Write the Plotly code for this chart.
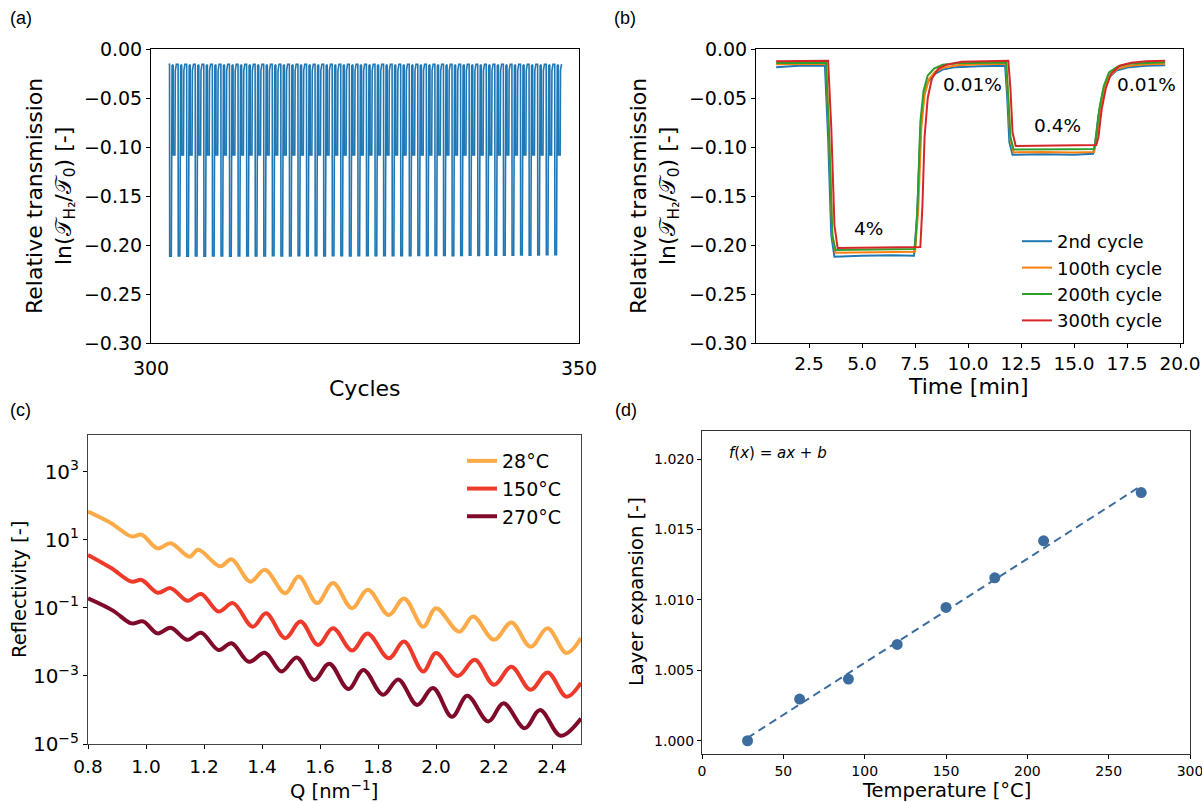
import numpy as np
import plotly.graph_objects as go

W, H = 1202, 802

# ---------------- (a) cycling overview ----------------
CYCLES_A = list(range(302, 348))          # 46 cycles shown
CYCLE_LENGTH_MIN = 20.0
PROFILE_T = [1.0, 3.3, 3.5, 3.65, 7.45, 7.6, 7.75, 7.9, 8.3, 9.2, 11.75, 11.9, 12.05, 15.9, 16.05, 16.3, 16.8, 19.2]
PROFILE_V = [-0.0155, -0.0155, -0.12, -0.211, -0.211, -0.16, -0.08, -0.045, -0.025, -0.017,
             -0.016, -0.07, -0.108, -0.108, -0.08, -0.045, -0.022, -0.0155]
DEEP_A = [-0.2115, -0.2112, -0.2115, -0.2113, -0.2114, -0.2112, -0.2113, -0.2115, -0.2112, -0.2111,
          -0.2113, -0.2112, -0.2110, -0.2112, -0.2111, -0.2110, -0.2112, -0.2110, -0.2111, -0.2109,
          -0.2110, -0.2111, -0.2109, -0.2110, -0.2108, -0.2110, -0.2109, -0.2108, -0.2109, -0.2107,
          -0.2108, -0.2107, -0.2106, -0.2108, -0.2106, -0.2105, -0.2106, -0.2104, -0.2105, -0.2103,
          -0.2104, -0.2102, -0.2103, -0.2101, -0.2100, -0.2099]

# ---------------- (b) single cycles ----------------
T_2ND = [0.95, 2.0, 3.25, 3.4, 3.55, 3.7, 5.0, 6.5, 7.45, 7.6, 7.75, 7.9, 8.1, 8.4, 8.8, 9.4,
         10.5, 11.75, 11.85, 11.95, 12.1, 13.5, 15.0, 15.9, 16.0, 16.15, 16.35, 16.6, 17.0, 17.6, 18.4, 19.3]
V_2ND = [-0.0185, -0.0172, -0.0168, -0.09, -0.19, -0.212, -0.211, -0.2105, -0.211, -0.17, -0.085, -0.05,
         -0.034, -0.026, -0.021, -0.0185, -0.0175, -0.0172, -0.05, -0.095, -0.108, -0.1075, -0.1078, -0.107,
         -0.095, -0.068, -0.045, -0.03, -0.022, -0.0185, -0.0172, -0.0165]
T_100 = [0.95, 2.0, 3.3, 3.45, 3.6, 3.75, 5.0, 6.5, 7.5, 7.65, 7.8, 7.95, 8.15, 8.45, 8.85, 9.5,
         10.5, 11.8, 11.9, 12.0, 12.15, 13.5, 15.0, 15.95, 16.05, 16.2, 16.4, 16.65, 17.05, 17.6, 18.4, 19.3]
V_100 = [-0.0155, -0.015, -0.015, -0.09, -0.19, -0.208, -0.2075, -0.207, -0.207, -0.165, -0.08, -0.047,
         -0.031, -0.023, -0.019, -0.0165, -0.0155, -0.015, -0.05, -0.093, -0.1055, -0.105, -0.1055, -0.105,
         -0.093, -0.066, -0.043, -0.028, -0.02, -0.017, -0.0155, -0.015]
T_200 = [0.95, 2.0, 3.3, 3.45, 3.6, 3.75, 5.0, 6.5, 7.5, 7.62, 7.75, 7.9, 8.1, 8.4, 8.8, 9.5,
         10.5, 11.8, 11.9, 12.0, 12.15, 13.5, 15.0, 15.95, 16.05, 16.2, 16.4, 16.65, 17.05, 17.6, 18.4, 19.3]
V_200 = [-0.0142, -0.014, -0.014, -0.09, -0.19, -0.205, -0.2045, -0.204, -0.204, -0.16, -0.075, -0.043,
         -0.027, -0.02, -0.016, -0.0145, -0.014, -0.0138, -0.05, -0.09, -0.1025, -0.102, -0.1022, -0.102,
         -0.088, -0.06, -0.038, -0.024, -0.018, -0.015, -0.014, -0.0135]
T_300 = [0.95, 2.0, 3.4, 3.55, 3.7, 3.85, 5.0, 6.5, 7.75, 7.85, 7.95, 8.1, 8.3, 8.6, 9.0, 9.7,
         10.5, 11.9, 12.0, 12.1, 12.25, 13.5, 15.0, 16.05, 16.15, 16.3, 16.5, 16.75, 17.15, 17.7, 18.4, 19.3]
V_300 = [-0.0125, -0.0122, -0.012, -0.08, -0.18, -0.203, -0.2025, -0.202, -0.202, -0.16, -0.09, -0.05,
         -0.03, -0.02, -0.016, -0.013, -0.0125, -0.012, -0.04, -0.085, -0.099, -0.0985, -0.0985, -0.098,
         -0.09, -0.062, -0.04, -0.025, -0.017, -0.014, -0.0125, -0.012]
CYCLE_LABELS = ["2nd cycle", "100th cycle", "200th cycle", "300th cycle"]
CYCLE_COLORS = ["#1f77b4", "#ff7f0e", "#2ca02c", "#d62728"]
B_NOTES = ["4%", "0.01%", "0.4%", "0.01%"]
B_NOTE_X = [5.3, 10.2, 14.2, 18.4]
B_NOTE_Y = [-0.183, -0.036, -0.078, -0.036]

# ---------------- (c) reflectivity ----------------
Q_28 = [0.80, 0.88, 0.95, 0.985, 1.04, 1.085, 1.15, 1.18, 1.256, 1.295, 1.36, 1.41, 1.48, 1.527, 1.59,
        1.645, 1.71, 1.765, 1.837, 1.89, 1.956, 2.00, 2.08, 2.128, 2.20, 2.26, 2.326, 2.385, 2.45, 2.50]
R_28 = [67.6, 30.9, 12.6, 14.1, 5.6, 7.9, 3.2, 5.1, 1.66, 2.7, 0.59, 1.32, 0.27, 0.83, 0.138,
        0.54, 0.098, 0.34, 0.062, 0.19, 0.028, 0.098, 0.020, 0.056, 0.0115, 0.037, 0.0072, 0.025, 0.0047, 0.0129]
Q_150 = [0.80, 0.88, 0.95, 0.985, 1.04, 1.085, 1.143, 1.19, 1.25, 1.30, 1.368, 1.414, 1.48, 1.533, 1.593,
         1.645, 1.711, 1.764, 1.837, 1.89, 1.956, 2.0, 2.075, 2.134, 2.20, 2.26, 2.326, 2.385, 2.45, 2.50]
R_150 = [3.6, 1.48, 0.59, 0.66, 0.28, 0.38, 0.162, 0.257, 0.078, 0.138, 0.028, 0.069, 0.0129, 0.040, 0.0081,
         0.025, 0.0056, 0.0178, 0.0033, 0.0102, 0.00135, 0.0047, 0.0010, 0.0030, 0.00055, 0.00186, 0.00039,
         0.00126, 0.000245, 0.00063]
Q_270 = [0.80, 0.886, 0.95, 0.99, 1.04, 1.085, 1.143, 1.19, 1.25, 1.295, 1.355, 1.41, 1.467, 1.52, 1.58,
         1.632, 1.698, 1.75, 1.817, 1.87, 1.935, 1.99, 2.055, 2.108, 2.18, 2.233, 2.306, 2.359, 2.43, 2.50]
R_270 = [0.19, 0.083, 0.035, 0.040, 0.0178, 0.026, 0.0115, 0.0186, 0.0058, 0.0091, 0.0026, 0.0048, 0.00135,
         0.0035, 0.00076, 0.0023, 0.00041, 0.0015, 0.00028, 0.00079, 0.000141, 0.00044, 0.000063, 0.00026,
         0.000046, 0.000158, 0.000029, 0.0001, 0.0000174, 0.000056]
TEMP_LABELS = ["28°C", "150°C", "270°C"]
TEMP_COLORS = ["#fdaa48", "#ee3a2b", "#7f0a2a"]
R_TICKS = [1e-5, 1e-3, 1e-1, 1e1, 1e3]
R_TICKTEXT = ["10<sup>−5</sup>", "10<sup>−3</sup>", "10<sup>−1</sup>", "10<sup>1</sup>", "10<sup>3</sup>"]

# ---------------- (d) layer expansion ----------------
TEMP_D = [28, 60, 90, 120, 150, 180, 210, 270]
EXPANSION = [1.0000, 1.00296, 1.00438, 1.00684, 1.00947, 1.01157, 1.0142, 1.01763]
D_COLOR = "#3d6d9e"


def px_x(p):
    return p / W


def px_y(p):
    return 1 - p / H


fig = go.Figure()

# (a)
xa, ya = [], []
for i, c in enumerate(CYCLES_A):
    for t, v in zip(PROFILE_T, PROFILE_V):
        xa.append(c + t / CYCLE_LENGTH_MIN)
        ya.append(DEEP_A[i] if v <= -0.2 else v)
fig.add_trace(go.Scatter(x=xa, y=ya, mode="lines", line=dict(color="#1f77b4", width=1.6),
                         showlegend=False, xaxis="x", yaxis="y"))

# (b)
for t, v, lab, col in zip([T_2ND, T_100, T_200, T_300], [V_2ND, V_100, V_200, V_300],
                          CYCLE_LABELS, CYCLE_COLORS):
    fig.add_trace(go.Scatter(x=t, y=v, mode="lines", name=lab, line=dict(color=col, width=2),
                             xaxis="x2", yaxis="y2", legend="legend", legendgroup=lab))

# (c)
for q, r, lab, col in zip([Q_28, Q_150, Q_270], [R_28, R_150, R_270], TEMP_LABELS, TEMP_COLORS):
    fig.add_trace(go.Scatter(x=q, y=r, mode="lines", name=lab,
                             line=dict(color=col, width=4, shape="spline", smoothing=1.0),
                             xaxis="x3", yaxis="y3", legend="legend2", legendgroup=lab))

# (d)
a_fit, b_fit = np.polyfit(TEMP_D, EXPANSION, 1)
fit_x = [min(TEMP_D), max(TEMP_D)]
fit_y = [a_fit * v + b_fit for v in fit_x]
fig.add_trace(go.Scatter(x=TEMP_D, y=EXPANSION, mode="markers",
                         marker=dict(color=D_COLOR, size=11), showlegend=False, xaxis="x4", yaxis="y4"))
fig.add_trace(go.Scatter(x=fit_x, y=fit_y, mode="lines",
                         line=dict(color=D_COLOR, width=2, dash="8px,5px"), showlegend=False,
                         xaxis="x4", yaxis="y4"))

ax_common = dict(showgrid=False, zeroline=False, showline=True, mirror=True, linecolor="black",
                 linewidth=1, ticks="outside", ticklen=4, tickcolor="black", automargin=False,
                 ticklabeloverflow="allow")

fig.update_layout(
    template="none",
    width=W, height=H, autosize=False, margin=dict(l=0, r=0, t=0, b=0, pad=0),
    paper_bgcolor="white", plot_bgcolor="white",
    font=dict(family="DejaVu Sans", color="black", size=16),
    xaxis=dict(ax_common, domain=[px_x(151), px_x(579)], anchor="y", range=[300, 350],
               tickvals=[300, 350], ticks="", tickfont=dict(size=19), ticklabelstandoff=8),
    yaxis=dict(ax_common, domain=[px_y(343), px_y(49)], anchor="x", range=[-0.3, 0.0],
               dtick=0.05, tickformat=".2f", tickfont=dict(size=19)),
    xaxis2=dict(ax_common, domain=[px_x(756), px_x(1183)], anchor="y2", range=[0.0, 20.14],
                tickvals=[2.5, 5.0, 7.5, 10.0, 12.5, 15.0, 17.5, 20.0], tickformat=".1f",
                tickfont=dict(size=18.5)),
    yaxis2=dict(ax_common, domain=[px_y(343), px_y(49)], anchor="x2", range=[-0.3, 0.0],
                dtick=0.05, tickformat=".2f", tickfont=dict(size=19)),
    xaxis3=dict(ax_common, domain=[px_x(88), px_x(581)], anchor="y3", range=[0.8, 2.5],
                dtick=0.2, tick0=0.8, tickformat=".1f", tickfont=dict(size=18.5), linecolor="#444",
                ticklabelstandoff=2),
    yaxis3=dict(ax_common, domain=[px_y(744), px_y(435)], anchor="x3", type="log", range=[-5, 4.08],
                tickvals=R_TICKS, ticktext=R_TICKTEXT, tickfont=dict(size=20), linecolor="#444"),
    xaxis4=dict(ax_common, domain=[px_x(702), px_x(1190)], anchor="y4", range=[0, 300],
                dtick=50, tickfont=dict(size=14), linecolor="#333"),
    yaxis4=dict(ax_common, domain=[px_y(754), px_y(431)], anchor="x4", range=[0.99906, 1.0220],
                dtick=0.005, tickformat=".3f", tickfont=dict(size=14), linecolor="#333"),
    legend=dict(x=px_x(1017), y=px_y(223), xanchor="left", yanchor="top", bgcolor="rgba(0,0,0,0)",
                font=dict(size=18), tracegroupgap=0, borderwidth=0),
    legend2=dict(x=px_x(462), y=px_y(442), xanchor="left", yanchor="top", bgcolor="rgba(0,0,0,0)",
                 font=dict(size=19), tracegroupgap=0, borderwidth=0),
)


def note(text, x, y, size, angle=0, anchor="center", family="DejaVu Sans"):
    return dict(text=text, x=px_x(x), y=px_y(y), xref="paper", yref="paper", textangle=angle,
                xanchor=anchor, yanchor="middle", showarrow=False, font=dict(size=size, family=family))


ann = []
for lab, x, y in [("(a)", 8, 18), ("(b)", 612, 18), ("(c)", 8, 410), ("(d)", 613, 410)]:
    ann.append(note(lab, x, y, 18, anchor="left", family="Liberation Sans"))
ytitle_ab = "Relative transmission<br>ln(𝒯<sub>H₂</sub>/𝒯<sub>0</sub>) [-]"
ann.append(note(ytitle_ab, 50, 196, 22, angle=-90))
ann.append(note(ytitle_ab, 654, 196, 22, angle=-90))
ann.append(note("Cycles", 365, 388, 22))
ann.append(note("Time [min]", 969, 386, 22))
for txt, x, y in zip(B_NOTES, B_NOTE_X, B_NOTE_Y):
    ann.append(dict(text=txt, x=x, y=y, xref="x2", yref="y2", showarrow=False, font=dict(size=18.5)))
ann.append(note("Reflectivity [-]", 19, 590, 19.5, angle=-90))
ann.append(note("Q [nm<sup>−1</sup>]", 334, 790, 19.5))
ann.append(note("Layer expansion [-]", 636, 592, 19.5, angle=-90))
ann.append(note("Temperature [°C]", 946, 790, 19.5))
ann.append(note("<i>f</i>(<i>x</i>) = <i>ax</i> + <i>b</i>", 727, 453, 15, anchor="left"))
fig.update_layout(annotations=ann)

fig.write_html("out.html", config={"displayModeBar": False},
               post_script="document.body.style.margin='0';")
